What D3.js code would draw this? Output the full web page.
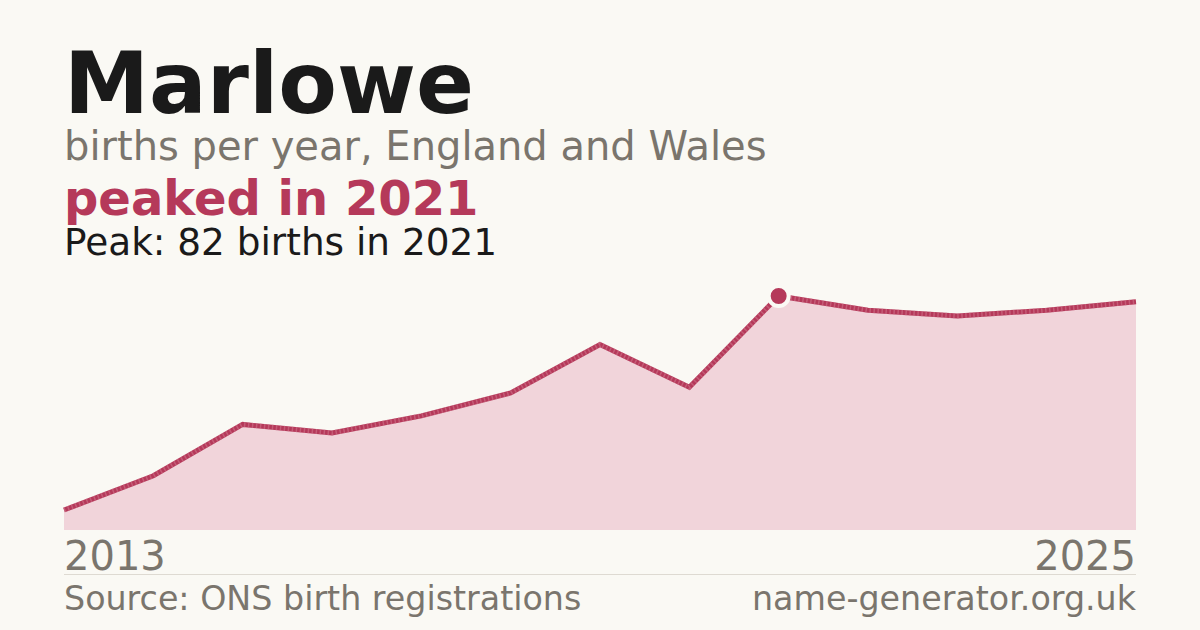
<!DOCTYPE html>
<html>
<head>
<meta charset="utf-8">
<script src="https://cdn.jsdelivr.net/npm/d3@7"></script>
<style>
    html, body { margin: 0; padding: 0; background: #faf9f4; }
    svg { display: block; font-family: "DejaVu Sans", sans-serif; }
</style>
</head>
<body>
<div class="chart"></div>
<script>
// data
const years = [2013, 2014, 2015, 2016, 2017, 2018, 2019, 2020, 2021, 2022, 2023, 2024, 2025]
const births = [7, 19, 37, 34, 40, 48, 65, 50, 82, 77, 75, 77, 80]
const nameTitle = 'Marlowe'
const subTitle = 'births per year, England and Wales'
const headline = 'peaked in 2021'
const peakNote = 'Peak: 82 births in 2021'
const sourceText = 'Source: ONS birth registrations'
const siteText = 'name-generator.org.uk'

const width = 1200,
    height = 630,
    left = 64,
    right = 1136

const red = '#b5395a'
const gray = '#7a756d'

const svg = d3.select('.chart').append('svg')
    .attr('width', width)
    .attr('height', height)

svg.append('rect')
    .attr('width', width)
    .attr('height', height)
    .style('fill', '#faf9f4')

// header texts
svg.append('text')
    .attr('x', left)
    .attr('y', 113)
    .style('font-size', '85.5px')
    .style('font-weight', 'bold')
    .style('fill', '#1a1a1a')
    .text(nameTitle)

svg.append('text')
    .attr('x', left)
    .attr('y', 160)
    .style('font-size', '40px')
    .style('fill', gray)
    .text(subTitle)

svg.append('text')
    .attr('x', left)
    .attr('y', 215)
    .style('font-size', '48px')
    .style('font-weight', 'bold')
    .style('fill', red)
    .text(headline)

svg.append('text')
    .attr('x', left)
    .attr('y', 255)
    .style('font-size', '37.4px')
    .style('fill', '#1a1a1a')
    .text(peakNote)

// scales
const x = d3.scaleLinear()
    .domain(d3.extent(years))
    .range([left, right])
const y = d3.scaleLinear()
    .domain([0, d3.max(births)])
    .range([530, 296])

const data = years.map((yr, i) => ({ year: yr, value: births[i] }))

const area = d3.area()
    .x(d => x(d.year))
    .y0(y(0))
    .y1(d => y(d.value))
const line = d3.line()
    .x(d => x(d.year))
    .y(d => y(d.value))

svg.append('path')
    .datum(data)
    .attr('d', area)
    .style('fill', '#f1d4da')

svg.append('path')
    .datum(data)
    .attr('d', line)
    .style('fill', 'none')
    .style('stroke', red)
    .style('stroke-width', 5)
    .style('stroke-linejoin', 'miter')

// light streaks over the line
svg.append('path')
    .datum(data)
    .attr('d', line)
    .style('fill', 'none')
    .style('stroke', '#d27a90')
    .style('stroke-width', 5)
    .style('stroke-dasharray', '1.5 2.5')
    .style('opacity', 0.55)

// peak marker
const peak = data.reduce((a, b) => (b.value > a.value ? b : a))
svg.append('circle')
    .attr('cx', x(peak.year))
    .attr('cy', y(peak.value))
    .attr('r', 10)
    .style('fill', red)
    .style('stroke', '#faf9f4')
    .style('stroke-width', 4)

// year labels
svg.append('text')
    .attr('x', left)
    .attr('y', 570)
    .style('font-size', '40px')
    .style('fill', gray)
    .text(years[0])
svg.append('text')
    .attr('x', right)
    .attr('y', 570)
    .style('font-size', '40px')
    .style('text-anchor', 'end')
    .style('fill', gray)
    .text(years[years.length - 1])

// footer
svg.append('line')
    .attr('x1', left)
    .attr('x2', right)
    .attr('y1', 574.5)
    .attr('y2', 574.5)
    .style('stroke', '#dedad2')
    .style('stroke-width', 1)

svg.append('text')
    .attr('x', left)
    .attr('y', 610)
    .style('font-size', '33.3px')
    .style('fill', gray)
    .text(sourceText)
svg.append('text')
    .attr('x', right)
    .attr('y', 610)
    .style('font-size', '33.3px')
    .style('text-anchor', 'end')
    .style('fill', gray)
    .text(siteText)
</script>
</body>
</html>
